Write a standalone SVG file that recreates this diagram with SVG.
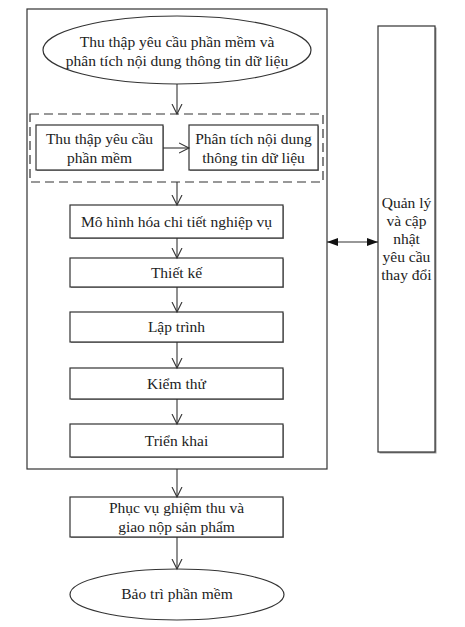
<svg xmlns="http://www.w3.org/2000/svg" width="465" height="627" viewBox="0 0 465 627">
<defs>
<style>
.b{fill:#fff;stroke:#333;stroke-width:1.2}
.sh{fill:#999;stroke:none}
.t{font-family:"Liberation Serif","Times New Roman",serif;font-size:15.5px;fill:#222;text-anchor:middle}
.c{fill:none;stroke:#333;stroke-width:1.1}
</style>
<marker id="open" markerWidth="12" markerHeight="12" refX="10" refY="6" orient="auto" markerUnits="userSpaceOnUse">
<path d="M0,1 L10,6 L0,11" fill="none" stroke="#333" stroke-width="1.1"/>
</marker>
<marker id="fill" markerWidth="12" markerHeight="10" refX="11" refY="5" orient="auto-start-reverse" markerUnits="userSpaceOnUse">
<path d="M0,1 L11,5 L0,9 Z" fill="#111"/>
</marker>
</defs>
<rect width="465" height="627" fill="#fff"/>

<g id="outer">
<rect x="27" y="9" width="300" height="460" fill="#fff" stroke="#333" stroke-width="1.2"/>
</g>

<g id="start">
<ellipse cx="177" cy="50" rx="134" ry="34" class="b"/>
<text class="t" x="177" y="47">Thu thập yêu cầu phần mềm và</text>
<text class="t" x="177" y="66">phân tích nội dung thông tin dữ liệu</text>
</g>

<g id="group">
<rect x="30" y="114" width="293" height="68" fill="none" stroke="#333" stroke-width="1.2" stroke-dasharray="9,5"/>
</g>

<g id="collect">
<rect x="37" y="126" width="127" height="45" class="sh"/>
<rect x="36" y="125" width="127" height="45" class="b"/>
<text class="t" x="99.5" y="144">Thu thập yêu cầu</text>
<text class="t" x="99.5" y="163">phần mềm</text>
</g>

<g id="analyze">
<rect x="190" y="126" width="129" height="45" class="sh"/>
<rect x="189" y="125" width="129" height="45" class="b"/>
<text class="t" x="253.5" y="144">Phân tích nội dung</text>
<text class="t" x="253.5" y="163">thông tin dữ liệu</text>
</g>

<g id="model">
<rect x="71" y="206" width="213" height="33" class="sh"/>
<rect x="70" y="205" width="213" height="33" class="b"/>
<text class="t" x="176.5" y="227">Mô hình hóa chi tiết nghiệp vụ</text>
</g>

<g id="design">
<rect x="71" y="259" width="213" height="29" class="sh"/>
<rect x="70" y="258" width="213" height="29" class="b"/>
<text class="t" x="176.5" y="278">Thiết kế</text>
</g>

<g id="code">
<rect x="71" y="313" width="213" height="30" class="sh"/>
<rect x="70" y="312" width="213" height="30" class="b"/>
<text class="t" x="176.5" y="332">Lập trình</text>
</g>

<g id="test">
<rect x="71" y="369" width="213" height="31" class="sh"/>
<rect x="70" y="368" width="213" height="31" class="b"/>
<text class="t" x="176.5" y="389">Kiểm thử</text>
</g>

<g id="deploy">
<rect x="71" y="425" width="213" height="33" class="sh"/>
<rect x="70" y="424" width="213" height="33" class="b"/>
<text class="t" x="176.5" y="446">Triển khai</text>
</g>

<g id="accept">
<rect x="71" y="498" width="213" height="40" class="sh"/>
<rect x="70" y="497" width="213" height="40" class="b"/>
<text class="t" x="176.5" y="513">Phục vụ ghiệm thu và</text>
<text class="t" x="176.5" y="532">giao nộp sản phẩm</text>
</g>

<g id="maintain">
<ellipse cx="177" cy="594.5" rx="107" ry="25.5" class="b"/>
<text class="t" x="177" y="599">Bảo trì phần mềm</text>
</g>

<g id="change">
<rect x="379.5" y="27.5" width="57" height="426" class="sh"/>
<rect x="378" y="26" width="57" height="426" class="b"/>
<text class="t" x="406.5" y="208">Quản lý</text>
<text class="t" x="406.5" y="226">và cập</text>
<text class="t" x="406.5" y="244">nhật</text>
<text class="t" x="406.5" y="262">yêu cầu</text>
<text class="t" x="406.5" y="280">thay đổi</text>
</g>

<g id="connectors">
<line class="c" x1="177" y1="84" x2="177" y2="114" marker-end="url(#open)"/>
<line class="c" x1="163" y1="148" x2="189" y2="148" marker-end="url(#open)"/>
<line class="c" x1="177" y1="182" x2="177" y2="205" marker-end="url(#open)"/>
<line class="c" x1="177" y1="238" x2="177" y2="258" marker-end="url(#open)"/>
<line class="c" x1="177" y1="287" x2="177" y2="312" marker-end="url(#open)"/>
<line class="c" x1="177" y1="342" x2="177" y2="368" marker-end="url(#open)"/>
<line class="c" x1="177" y1="399" x2="177" y2="424" marker-end="url(#open)"/>
<line class="c" x1="177" y1="469" x2="177" y2="497" marker-end="url(#open)"/>
<line class="c" x1="177" y1="537" x2="177" y2="569" marker-end="url(#open)"/>
<line class="c" x1="327" y1="242" x2="378" y2="242" marker-start="url(#fill)" marker-end="url(#fill)"/>
</g>
</svg>
